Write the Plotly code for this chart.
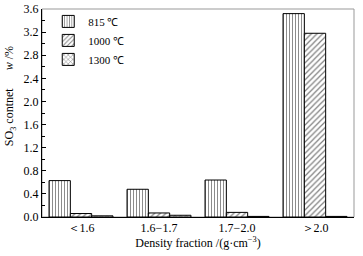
import plotly.graph_objects as go

categories = ["＜1.6", "1.6−1.7", "1.7−2.0", "＞2.0"]
series_names = ["815 ℃", "1000 ℃", "1300 ℃"]
v815 = [0.63, 0.48, 0.64, 3.52]
v1000 = [0.06, 0.07, 0.08, 3.18]
v1300 = [0.02, 0.03, 0.01, 0.01]
patterns = ["|", "/", "x"]
pattern_sizes = [3, 4, 4]
y_ticks = [0.0, 0.4, 0.8, 1.2, 1.6, 2.0, 2.4, 2.8, 3.2, 3.6]

font = "Liberation Serif, Times New Roman, serif"
fig = go.Figure()
for name, vals, pat, ps in zip(series_names, [v815, v1000, v1300], patterns, pattern_sizes):
    fig.add_trace(go.Bar(
        x=categories, y=vals, name=name,
        marker=dict(color="white", line=dict(color="black", width=1),
                    pattern=dict(shape=pat, fgcolor="black", size=ps, solidity=0.3)),
    ))

fig.update_layout(
    width=363, height=256,
    margin=dict(l=42, r=9, t=9, b=39, autoexpand=False),
    paper_bgcolor="white", plot_bgcolor="white",
    barmode="group", bargap=0.18, bargroupgap=0,
    font=dict(family=font, size=12, color="black"),
    showlegend=True,
    legend=dict(x=0.02, y=1.01, xanchor="left", yanchor="top",
                bgcolor="rgba(0,0,0,0)", font=dict(size=11),
                tracegroupgap=0, itemwidth=30),
    xaxis=dict(showline=True, linecolor="black", linewidth=1, mirror=False,
               ticks="", tickfont=dict(size=12), automargin=False,
               title=dict(text="Density fraction /(g·cm<sup>−3</sup>)", font=dict(size=12), standoff=2)),
    yaxis=dict(range=[0, 3.6], tickvals=y_ticks, ticktext=[f"{t:.1f}" for t in y_ticks],
               showline=True, linecolor="black", linewidth=1, ticks="inside", ticklen=4,
               tickcolor="black", showgrid=False, zeroline=False, tickfont=dict(size=12),
               automargin=False,
               minor=dict(dtick=0.2, ticks="inside", ticklen=3, tickcolor="black")),
    shapes=[dict(type="rect", xref="paper", yref="paper", x0=0, x1=1, y0=0, y1=1,
                 line=dict(color="#999999", width=1), layer="below")],
    annotations=[dict(text="SO<sub>3</sub> contnet      <i>w</i> /%", xref="paper", yref="paper",
                      x=-0.1, y=0.58, textangle=-90, showarrow=False,
                      xanchor="center", yanchor="middle", font=dict(size=12))],
)
fig.write_html("out.html", config={"displayModeBar": False},
               post_script="document.body.style.margin='0';document.body.style.padding='0';")
